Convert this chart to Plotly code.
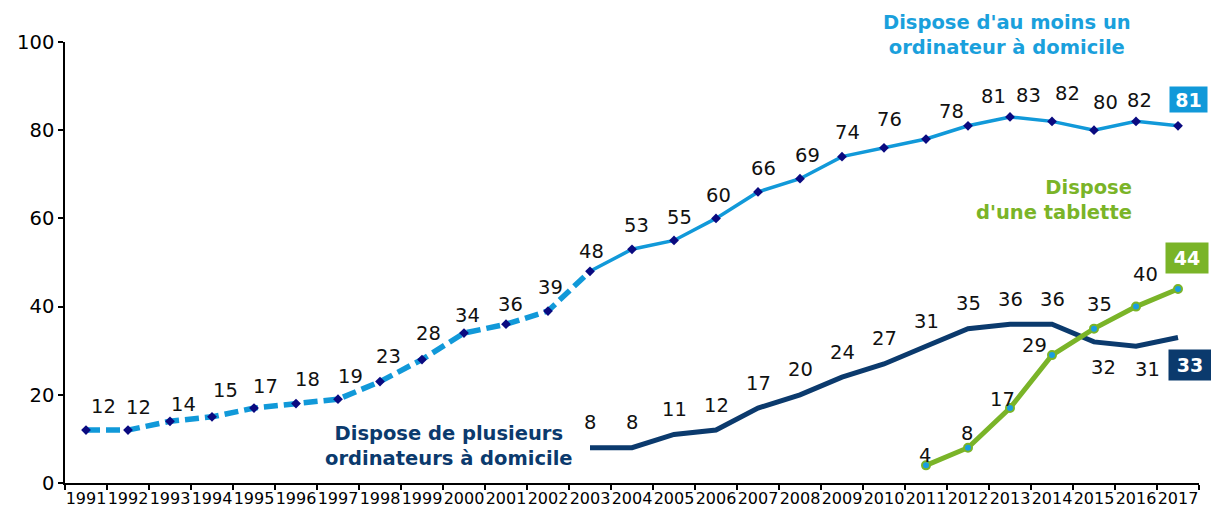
import plotly.graph_objects as go

years = [str(y) for y in range(1991, 2018)]

# Dispose d'au moins un ordinateur à domicile (1991-2017)
au_moins_un = [12, 12, 14, 15, 17, 18, 19, 23, 28, 34, 36, 39, 48, 53, 55, 60,
               66, 69, 74, 76, 78, 81, 83, 82, 80, 82, 81]
# Dispose de plusieurs ordinateurs à domicile (2003-2017)
plusieurs_years = years[12:]
plusieurs = [8, 8, 11, 12, 17, 20, 24, 27, 31, 35, 36, 36, 32, 31, 33]
# Dispose d'une tablette (2011-2017)
tablette_years = years[20:]
tablette = [4, 8, 17, 29, 35, 40, 44]

LIGHT = "#1199d9"
NAVY = "#0b3a6d"
GREEN = "#7ab428"
DIAM = "#0a0a80"
FONT = "DejaVu Sans"

fig = go.Figure()

# dashed part 1991-2003
fig.add_trace(go.Scatter(
    x=years[:13], y=au_moins_un[:13], mode="lines",
    line=dict(color=LIGHT, width=5.5, dash="14px,6px"), hoverinfo="skip"))
# solid part 2003-2017
fig.add_trace(go.Scatter(
    x=years[12:], y=au_moins_un[12:], mode="lines",
    line=dict(color=LIGHT, width=3.5), hoverinfo="skip"))
# markers
fig.add_trace(go.Scatter(
    x=years, y=au_moins_un, mode="markers",
    marker=dict(symbol="diamond", size=7.5, color=DIAM), hoverinfo="skip"))

fig.add_trace(go.Scatter(
    x=plusieurs_years, y=plusieurs, mode="lines",
    line=dict(color=NAVY, width=5), hoverinfo="skip"))

fig.add_trace(go.Scatter(
    x=tablette_years, y=tablette, mode="lines+markers",
    line=dict(color=GREEN, width=5),
    marker=dict(size=8, color="#1a9ee0", line=dict(color=GREEN, width=2)),
    hoverinfo="skip"))

annotations = []

def pos(year):
    # category index on the x axis
    return years.index(year)

def lab(x, y, text, dx, dy):
    annotations.append(dict(
        x=pos(x), y=y, xref="x", yref="y", text=str(text), showarrow=False,
        xshift=dx, yshift=dy, xanchor="center", yanchor="middle",
        font=dict(family=FONT, size=19.5, color="#111111")))

# label offsets (pixels) for the light-blue series, 1991-2016
lb_dx = [17, 10, 13, 13, 11, 11, 12, 8, 6, 3, 4, 2, 1, 4, 5, 2, 5, 7, 5, 5,
         25, 25, 18, 15, 11, 3]
lb_dy = [24, 23, 17, 26, 22, 24, 23, 25, 26, 18, 20, 24, 20, 24, 23, 23, 23,
         23, 24, 28, 28, 29, 21, 28, 28, 21]
for i in range(len(years) - 1):
    lab(years[i], au_moins_un[i], au_moins_un[i], lb_dx[i], lb_dy[i])

nv_dx = [0] * 12 + [9, 11]
nv_dy = [25] * 12 + [-26, -23]
for i in range(len(plusieurs) - 1):
    lab(plusieurs_years[i], plusieurs[i], plusieurs[i], nv_dx[i], nv_dy[i])

gr_dx = [-1, -1, -8, -18, 5, 9]
gr_dy = [10, 14, 9, 10, 24, 32]
for i in range(len(tablette) - 1):
    lab(tablette_years[i], tablette[i], tablette[i], gr_dx[i], gr_dy[i])

def box(x, y, text, color, dx, dy, w, h, pad):
    annotations.append(dict(
        x=pos(x), y=y, xref="x", yref="y", text="<b>%d</b>" % text,
        showarrow=False, xshift=dx, yshift=dy, xanchor="center",
        yanchor="middle", bgcolor=color, borderpad=pad, width=w, height=h,
        font=dict(family=FONT, size=19, color="white")))

box(years[-1], au_moins_un[-1], au_moins_un[-1], LIGHT, 10, 26, 35, 23, 1)
box(years[-1], tablette[-1], tablette[-1], GREEN, 9, 31, 36, 24, 3)
box(years[-1], plusieurs[-1], plusieurs[-1], NAVY, 12, -28, 36, 24, 3)

# series titles
annotations.append(dict(
    x=0.8307, y=1.017, xref="paper", yref="paper",
    text="<b>Dispose d'au moins un<br>ordinateur à domicile</b>",
    showarrow=False, xanchor="center", yanchor="middle", align="center",
    font=dict(family=FONT, size=19.5, color="#1aa0dc")))
annotations.append(dict(
    x=0.3386, y=0.0828, xref="paper", yref="paper",
    text="<b>Dispose de plusieurs<br>ordinateurs à domicile</b>",
    showarrow=False, xanchor="center", yanchor="middle", align="center",
    font=dict(family=FONT, size=19.5, color=NAVY)))
annotations.append(dict(
    x=0.9427, y=0.6417, xref="paper", yref="paper",
    text="<b>Dispose<br>d'une tablette</b>",
    showarrow=False, xanchor="right", yanchor="middle", align="right",
    font=dict(family=FONT, size=19.5, color=GREEN)))

fig.update_layout(
    width=1211, height=513,
    margin=dict(l=65, r=12, t=42, b=30),
    plot_bgcolor="white", paper_bgcolor="white",
    showlegend=False,
    font=dict(family=FONT, color="black"),
    annotations=annotations,
    xaxis=dict(
        type="category", categoryorder="array", categoryarray=years,
        range=[-0.5, len(years) - 0.5], automargin=False,
        tickson="boundaries", ticks="outside", ticklen=5, tickwidth=1.5,
        tickcolor="black", showline=True, linecolor="black", linewidth=1.5,
        showgrid=False, zeroline=False, tickangle=0,
        tickfont=dict(family=FONT, size=16, color="black")),
    yaxis=dict(
        range=[0, 100], dtick=20, ticks="outside", ticklen=5, tickwidth=1.5,
        tickcolor="black", showline=True, linecolor="black", linewidth=1.5,
        showgrid=False, zeroline=False, automargin=False,
        tickfont=dict(family=FONT, size=19.5, color="black")),
)

fig.write_html("out.html", config={"displayModeBar": False},
               post_script="document.body.style.margin='0';")
